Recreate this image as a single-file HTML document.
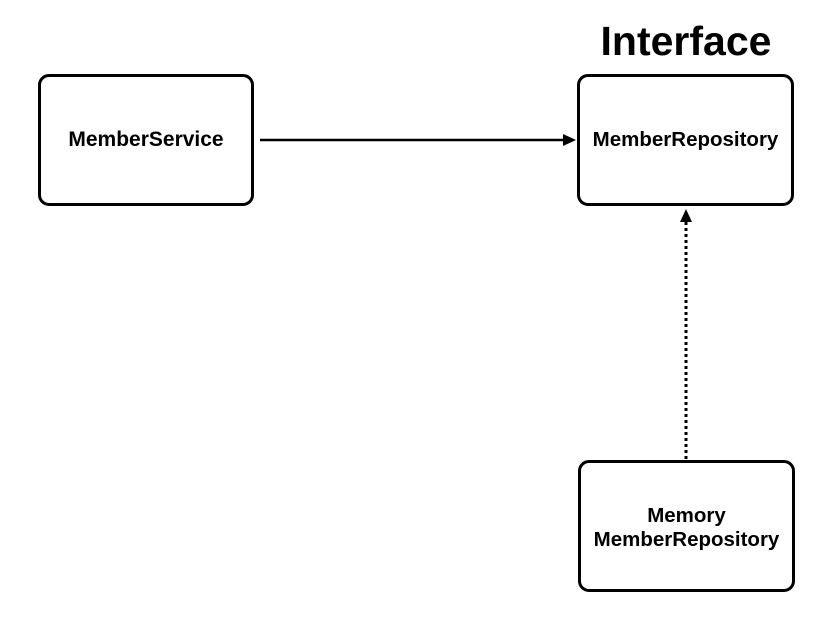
<!DOCTYPE html>
<html><head><style>
body{margin:0;width:831px;height:625px;background:#fff;overflow:hidden;font-family:"Liberation Sans","NanumGothic",sans-serif;}
.b{position:absolute;border:3px solid #000;border-radius:11px;box-sizing:border-box;display:flex;align-items:center;justify-content:center;text-align:center;font-weight:bold;font-size:21px;line-height:24px;}
</style></head><body>
<div style="position:absolute;left:576px;top:18px;width:220px;text-align:center;font-weight:bold;font-size:41px;">Interface</div>
<div class="b" style="left:38px;top:74px;width:216px;height:132px;">MemberService</div>
<div class="b" style="left:577px;top:74px;width:217px;height:132px;font-size:20.5px;">MemberRepository</div>
<div class="b" style="left:578px;top:460px;width:217px;height:132px;font-size:20.5px;padding-top:4px;">Memory<br>MemberRepository</div>
<svg width="831" height="625" style="position:absolute;left:0;top:0">
<line x1="260" y1="140" x2="566" y2="140" stroke="#000" stroke-width="2.5"/>
<polygon points="576,140 563,134 563,146" fill="#000"/>
<line x1="686" y1="459" x2="686" y2="222" stroke="#000" stroke-width="3" stroke-dasharray="3,3"/>
<polygon points="686,209 680,222 692,222" fill="#000"/>
</svg>
</body></html>
